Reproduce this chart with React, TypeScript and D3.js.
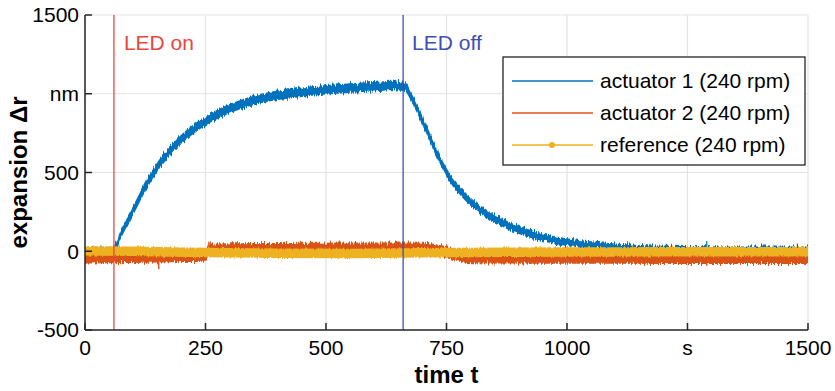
import React from "react";
import * as d3 from "d3";

// ---- data (time in s, expansion in nm) ----
const xTicks = [0, 250, 500, 750, 1000, 1250, 1500];
const xTickLabels = ["0", "250", "500", "750", "1000", "s", "1500"];
const yTicks = [-500, 0, 500, 1000, 1500];
const yTickLabels = ["-500", "0", "500", "nm", "1500"];

// actuator 1: mean level and noise half-width
const act1T = [0, 30, 58, 62, 75, 100, 125, 150, 175, 200, 225, 250, 300, 350, 400, 450, 500, 550, 600, 640, 662, 680, 700, 725, 750, 775, 800, 825, 850, 875, 900, 950, 1000, 1050, 1100, 1200, 1300, 1400, 1500];
const act1V = [5, 5, 5, 20, 112, 260, 408, 535, 630, 712, 775, 828, 905, 958, 990, 1010, 1025, 1037, 1045, 1052, 1048, 960, 830, 660, 500, 395, 315, 255, 208, 168, 136, 88, 58, 40, 27, 15, 12, 10, 10];
const act1H = [18, 18, 18, 24, 28, 30, 30, 30, 30, 30, 30, 30, 30, 30, 30, 30, 30, 30, 30, 30, 30, 29, 29, 28, 28, 27, 27, 26, 26, 26, 26, 25, 24, 23, 22, 20, 20, 20, 20];

// actuator 2
const act2T = [0, 100, 200, 250, 258, 400, 550, 700, 740, 800, 1000, 1200, 1500];
const act2V = [-36, -34, -31, -29, 12, 15, 18, 16, 0, -42, -46, -47, -47];
const act2H = [42, 40, 38, 38, 38, 38, 38, 38, 38, 34, 34, 34, 34];

// reference
const refT = [0, 100, 250, 400, 550, 700, 900, 1100, 1300, 1500];
const refV = [3, 0, -8, -12, -14, -10, -6, -4, -3, -3];

// isolated spikes [t, base, tip]
const act1Spikes = [[1290, 10, 65], [1478, 10, 50], [1150, 15, 40], [1210, 12, 35], [645, 1050, 1085]];
const act2Spikes = [[153, -30, -114], [257, 10, 60], [560, 18, 58], [1290, -46, -92], [820, -40, -82]];

const ledOn = 60;
const ledOff = 660;

const legendItems = ["actuator 1 (240 rpm)", "actuator 2 (240 rpm)", "reference (240 rpm)"];

const C_BLUE = "#0072BD";
const C_ORANGE = "#D95319";
const C_YELLOW = "#EDB120";
const C_RED = "#E8473E";
const C_INDIGO = "#3F4FB0";
const AX = "#262626";
const FONT = "'Liberation Sans', Arial, Helvetica, sans-serif";

const W = 835;
const H = 391;
const x = d3.scaleLinear().domain([0, 1500]).range([85, 808]);
const y = d3.scaleLinear().domain([-500, 1500]).range([330, 15]);

type Pt = { t: number; v: number; h: number };
const zipSeries = (t: number[], v: number[], h: number[]): Pt[] =>
  t.map((tt, i) => ({ t: tt, v: v[i], h: h[i] }));

const band = d3
  .area<Pt>()
  .x((d) => x(d.t))
  .y0((d) => y(d.v - d.h))
  .y1((d) => y(d.v + d.h))
  .curve(d3.curveMonotoneX);

const mid = d3
  .line<Pt>()
  .x((d) => x(d.t))
  .y((d) => y(d.v))
  .curve(d3.curveMonotoneX);

export default function App() {
  const s1 = zipSeries(act1T, act1V, act1H);
  const s2 = zipSeries(act2T, act2V, act2H);
  const sr = zipSeries(refT, refV, refT.map(() => 0));
  const [x0, x1] = x.range();
  const [yb, yt] = y.range();

  return (
    <svg
      width={W}
      height={H}
      style={{ position: "fixed", left: 0, top: 0, background: "#fff" }}
      fontFamily={FONT}
    >
      <defs>
        <clipPath id="plotArea">
          <rect x={x0} y={yt} width={x1 - x0} height={yb - yt} />
        </clipPath>
        {/* jagged edges for the sampled-signal bands (vertical displacement only) */}
        <filter id="jitter" filterUnits="userSpaceOnUse" x={0} y={0} width={W} height={H}>
          <feTurbulence type="fractalNoise" baseFrequency="0.7 0.03" numOctaves={2} seed={3} result="n" />
          <feColorMatrix in="n" type="matrix"
            values="1 0 0 0 0  0 0 0 0 0.5  0 0 0 0 0  0 0 0 0 1" result="nm" />
          <feDisplacementMap in="SourceGraphic" in2="nm" scale={8} xChannelSelector="G" yChannelSelector="R" />
        </filter>
        <filter id="jitterSoft" filterUnits="userSpaceOnUse" x={0} y={0} width={W} height={H}>
          <feTurbulence type="fractalNoise" baseFrequency="0.7 0.03" numOctaves={2} seed={7} result="n" />
          <feColorMatrix in="n" type="matrix"
            values="1 0 0 0 0  0 0 0 0 0.5  0 0 0 0 0  0 0 0 0 1" result="nm" />
          <feDisplacementMap in="SourceGraphic" in2="nm" scale={3} xChannelSelector="G" yChannelSelector="R" />
        </filter>
      </defs>
      <rect x={0} y={0} width={W} height={H} fill="#fff" />

      {/* grid */}
      {xTicks.map((t) => (
        <line key={"gx" + t} x1={x(t)} x2={x(t)} y1={yt} y2={yb} stroke="#e3e3e3" strokeWidth={1.2} />
      ))}
      {yTicks.map((v) => (
        <line key={"gy" + v} x1={x0} x2={x1} y1={y(v)} y2={y(v)} stroke="#e3e3e3" strokeWidth={1.2} />
      ))}

      <g clipPath="url(#plotArea)">
        {/* actuator 1 */}
        <g filter="url(#jitter)">
          <path d={band(s1) ?? ""} fill={C_BLUE} />
        </g>
        {act1Spikes.map(([t, b, v], i) => (
          <line key={"s1" + i} x1={x(t)} x2={x(t)} y1={y(b)} y2={y(v)} stroke={C_BLUE} strokeWidth={1.2} />
        ))}
        {/* actuator 2 */}
        <g filter="url(#jitter)">
          <path d={band(s2) ?? ""} fill={C_ORANGE} />
        </g>
        {act2Spikes.map(([t, b, v], i) => (
          <line key={"s2" + i} x1={x(t)} x2={x(t)} y1={y(b)} y2={y(v)} stroke={C_ORANGE} strokeWidth={1.4} />
        ))}
        {/* reference */}
        <g filter="url(#jitterSoft)">
          <path d={mid(sr) ?? ""} fill="none" stroke={C_YELLOW} strokeWidth={9.5} strokeLinecap="round" />
        </g>

        {/* LED markers */}
        <line x1={x(ledOn)} x2={x(ledOn)} y1={yt} y2={yb} stroke={C_RED} strokeWidth={1.3} />
        <line x1={x(ledOff)} x2={x(ledOff)} y1={yt} y2={yb} stroke={C_INDIGO} strokeWidth={1.3} />
      </g>

      <text x={x(ledOn) + 10} y={50} fill={C_RED} fontSize={21}>LED on</text>
      <text x={x(ledOff) + 9} y={50} fill={C_INDIGO} fontSize={21}>LED off</text>

      {/* axes */}
      <line x1={x0} x2={x0} y1={yt} y2={yb} stroke={AX} strokeWidth={1.5} />
      <line x1={x0} x2={x1} y1={yb} y2={yb} stroke={AX} strokeWidth={1.5} />
      {yTicks.map((v, i) => (
        <g key={"yt" + v}>
          <line x1={x0} x2={x0 + 7} y1={y(v)} y2={y(v)} stroke={AX} strokeWidth={1.5} />
          <text x={x0 - 6} y={y(v)} dy="0.35em" textAnchor="end" fontSize={21} fill="#000">
            {yTickLabels[i]}
          </text>
        </g>
      ))}
      {xTicks.map((t, i) => (
        <g key={"xt" + t}>
          <line x1={x(t)} x2={x(t)} y1={yb} y2={yb - 7} stroke={AX} strokeWidth={1.5} />
          <text x={x(t)} y={355} textAnchor="middle" fontSize={21} fill="#000">
            {xTickLabels[i]}
          </text>
        </g>
      ))}

      <text x={(x0 + x1) / 2} y={383} textAnchor="middle" fontSize={24} fontWeight="bold" fill="#000">
        time t
      </text>
      <text
        transform={`translate(27, ${(yt + yb) / 2}) rotate(-90)`}
        textAnchor="middle"
        fontSize={24}
        fontWeight="bold"
        fill="#000"
      >
        expansion Δr
      </text>

      {/* legend */}
      <g>
        <rect x={503} y={57} width={302} height={108} fill="#fff" stroke={AX} strokeWidth={1.3} />
        {legendItems.map((label, i) => {
          const ly = 81 + i * 32;
          const col = [C_BLUE, C_ORANGE, C_YELLOW][i];
          return (
            <g key={label}>
              <line x1={512} x2={593} y1={ly} y2={ly} stroke={col} strokeWidth={1.5} />
              {i === 2 && <circle cx={552} cy={ly} r={3} fill={col} />}
              <text x={600} y={ly} dy="0.35em" fontSize={21} fill="#000">
                {label}
              </text>
            </g>
          );
        })}
      </g>
    </svg>
  );
}
